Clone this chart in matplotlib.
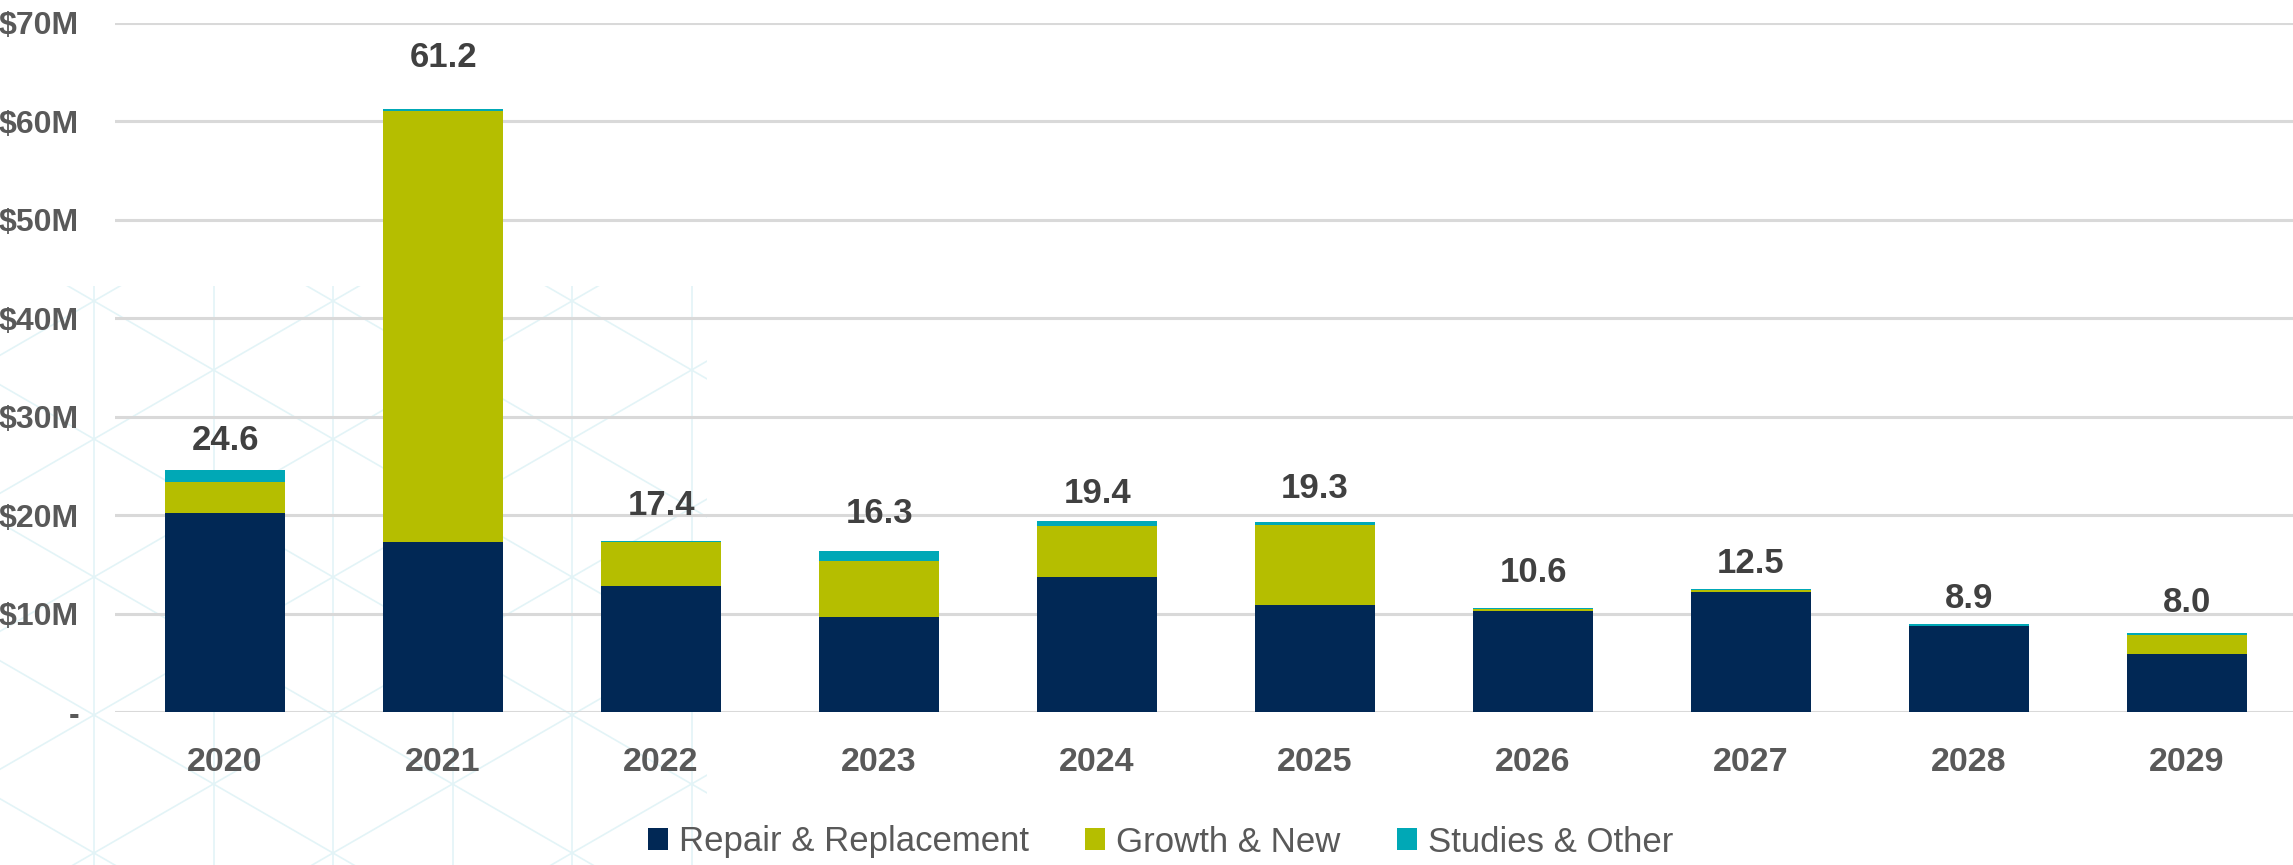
import numpy as np
import matplotlib

matplotlib.use("Agg")
import matplotlib.pyplot as plt
from matplotlib import font_manager
from matplotlib.patches import Rectangle

# Capital program by year, $M
years = ["2020", "2021", "2022", "2023", "2024", "2025", "2026", "2027", "2028", "2029"]
repair = [20.2, 17.3, 12.8, 9.6, 13.7, 10.9, 10.3, 12.2, 8.7, 5.9]
growth = [3.2, 43.7, 4.45, 5.7, 5.2, 8.1, 0.2, 0.2, 0.05, 1.95]
studies = [1.2, 0.2, 0.15, 1.0, 0.5, 0.3, 0.1, 0.1, 0.15, 0.15]
series_names = ["Repair & Replacement", "Growth & New", "Studies & Other"]
y_ticks = [0, 10, 20, 30, 40, 50, 60, 70]

# styling
COLORS = ["#012855", "#b5be00", "#00a8b6"]
# gap (px) between bar top and the total label baseline, as placed in the original
LABEL_LIFT = [20, 42, 26, 28, 18, 24, 26, 16, 16, 21]
W, H = 2293, 865


def pick_font(*names):
    for n in names:
        try:
            font_manager.findfont(font_manager.FontProperties(family=n), fallback_to_default=False)
            return n
        except ValueError:
            pass
    return "DejaVu Sans"


NARROW = pick_font("Liberation Sans Narrow", "Liberation Sans", "Arial")
REGULAR = pick_font("Liberation Sans", "Arial")
narrow_ok = NARROW == "Liberation Sans Narrow"

fig = plt.figure(figsize=(W / 100, H / 100), dpi=100)
fig.patch.set_facecolor("white")

# faint isometric lattice in the lower-left corner
bg = fig.add_axes([0, 0, 1, 1], zorder=-1)
bg.set_xlim(0, W)
bg.set_ylim(H, 0)
bg.axis("off")
box = Rectangle((0, 286), 707, H - 286, transform=bg.transData)
t30 = np.tan(np.radians(30))
x0, y0, dx, dy = 333, 439, 119.5, 138
lat = dict(color="#e3f4f7", lw=1.2)
for k in range(-6, 6):
    ln, = bg.plot([x0 + dx * k] * 2, [0, H], **lat)
    ln.set_clip_path(box)
for k in range(-8, 8):
    xs = np.array([-400, 1200])
    for sgn in (1, -1):
        ln, = bg.plot(xs, y0 + sgn * t30 * (xs - x0) + dy * k, **lat)
        ln.set_clip_path(box)

ax = fig.add_axes([115 / W, 1 - 712 / H, 1 - 115 / W, (712 - 22.7) / H])
ax.set_facecolor("none")

x = np.arange(len(years))
bottom = np.zeros(len(years))
handles = []
for vals, color in zip([repair, growth, studies], COLORS):
    bars = ax.bar(x, vals, width=0.55, bottom=bottom, color=color, zorder=3)
    handles.append(bars)
    bottom += np.array(vals)

for xi, tot, lift in zip(x, bottom, LABEL_LIFT):
    ax.annotate(f"{tot:.1f}", (xi, tot), xytext=(0, lift), textcoords="offset pixels",
                ha="center", va="baseline", fontsize=27 if narrow_ok else 25,
                fontweight="bold", family=NARROW, color="#404040")

ax.set_xlim(-0.505, 9.486)
ax.set_ylim(0, 70)
ax.set_yticks(y_ticks)
ax.set_yticklabels(["-" if v == 0 else f"${v}M" for v in y_ticks])
ax.set_xticks(x)
ax.set_xticklabels(years)
ax.grid(axis="y", color="#d9d9d9", lw=2.2, zorder=0)
ax.set_axisbelow(True)
for s in ax.spines.values():
    s.set_visible(False)
ax.tick_params(axis="y", length=0, pad=26, labelsize=27 if narrow_ok else 23,
               labelcolor="#595959")
ax.tick_params(axis="x", length=0, pad=25, labelsize=26.5 if narrow_ok else 24.5,
               labelcolor="#595959")
for lab in ax.get_yticklabels() + ax.get_xticklabels():
    lab.set_fontweight("bold")
    lab.set_family(NARROW)

# legend entries sit at uneven spacing in the original, so place each one
for h, name, left in zip(handles, series_names, [648, 1085, 1397]):
    fig.legend([h], [name], loc="center left", bbox_to_anchor=(left / W, 1 - 842 / H),
               frameon=False, borderpad=0, borderaxespad=0, handlelength=0.58,
               handleheight=0.58, handletextpad=0.32,
               prop=dict(family=REGULAR, size=25), labelcolor="#595959")

fig.savefig("out.png", dpi=100, facecolor="white")
